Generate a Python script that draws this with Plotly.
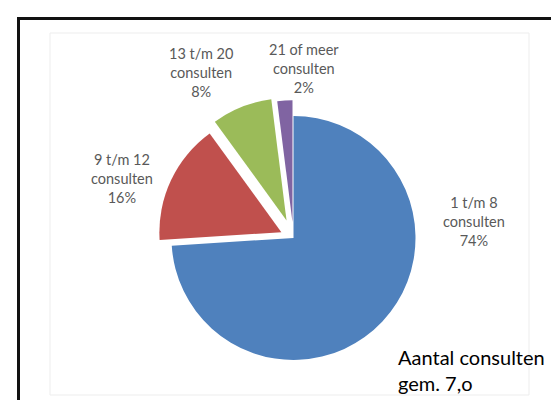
import plotly.graph_objects as go

# ---- data ----
categories = ["1 t/m 8", "9 t/m 12", "13 t/m 20", "21 of meer"]
values = [74, 16, 8, 2]
note_lines = ["Aantal consulten", "gem. 7,o"]

# ---- styling / layout (kept separate from data) ----
colors = ["#4F81BD", "#C0504D", "#9BBB59", "#8064A2"]
pulls = [0.0, 0.11, 0.155, 0.13]
# label centre positions in pixels (x, y from top)
label_pos = [(466, 213), (114, 170), (193, 65), (296, 60)]

W, H = 559, 400


def px(x):
    return x / W


def py(y):
    return 1 - y / H


labels = [f"{c} consulten" for c in categories]

fig = go.Figure(
    go.Pie(
        labels=labels,
        values=values,
        sort=False,
        direction="clockwise",
        rotation=0,
        pull=pulls,
        marker=dict(colors=colors, line=dict(width=0)),
        textinfo="none",
        hoverinfo="label+percent",
        showlegend=False,
        domain=dict(x=[0.2587, 0.7628], y=[0.0728, 0.7773]),
    )
)

total = sum(values)
annotations = []
for c, v, (lx, ly) in zip(categories, values, label_pos):
    pct = round(100 * v / total)
    annotations.append(
        dict(
            x=px(lx), y=py(ly), xref="paper", yref="paper",
            text=f"{c}<br>consulten<br>{pct}%",
            showarrow=False, xanchor="center", yanchor="middle",
            align="center",
            font=dict(family="Lato", size=14.5, color="#595959"),
        )
    )

annotations.append(
    dict(
        x=px(388), y=py(362), xref="paper", yref="paper",
        text="<br>".join(note_lines),
        showarrow=False, xanchor="left", yanchor="middle", align="left",
        font=dict(family="Lato", size=20, color="#000000"),
    )
)

shapes = [
    # faint inner chart-area box
    dict(type="rect", xref="paper", yref="paper",
         x0=px(42), x1=px(521), y0=py(387), y1=py(25),
         line=dict(color="#ededed", width=1), fillcolor="rgba(0,0,0,0)",
         layer="below"),
    # thick black frame (top and left visible)
    dict(type="line", xref="paper", yref="paper",
         x0=px(9), x1=px(W + 5), y0=py(10.5), y1=py(10.5),
         line=dict(color="#111111", width=3)),
    dict(type="line", xref="paper", yref="paper",
         x0=px(10.5), x1=px(10.5), y0=py(9), y1=py(H + 5),
         line=dict(color="#111111", width=3)),
]

fig.update_layout(
    width=W, height=H,
    margin=dict(l=0, r=0, t=0, b=0),
    paper_bgcolor="white", plot_bgcolor="white",
    annotations=annotations,
    shapes=shapes,
)

fig.write_html("out.html")
